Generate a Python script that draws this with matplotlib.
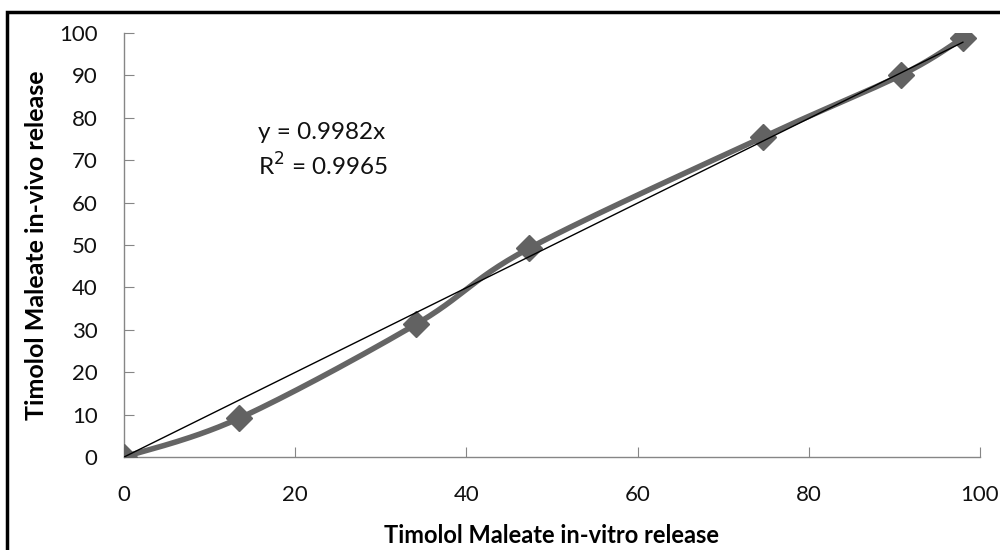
import numpy as np
import matplotlib
matplotlib.use("Agg")
from matplotlib import pyplot as plt
from matplotlib.patches import Rectangle

# in-vitro vs in-vivo release (%)
invitro = [0, 13.4, 34.1, 47.3, 74.7, 90.8, 98.0]
invivo = [0, 9.1, 31.3, 49.2, 75.5, 90.1, 98.8]
slope = 0.9982
r2 = 0.9965

plt.rcParams['font.family'] = ['Lato', 'DejaVu Sans']


def smooth(xs, ys, n=30):
    # catmull-rom style smoothing between the points
    x = np.asarray(xs, float)
    y = np.asarray(ys, float)
    px = np.concatenate([[x[0]], x, [x[-1]]])
    py = np.concatenate([[y[0]], y, [y[-1]]])
    outx, outy = [], []
    t = np.linspace(0, 1, n)
    for i in range(1, len(px) - 2):
        p0, p1, p2, p3 = [np.array([px[j], py[j]]) for j in (i - 1, i, i + 1, i + 2)]
        c1 = p1 + (p2 - p0) / 6
        c2 = p2 - (p3 - p1) / 6
        b = ((1 - t) ** 3)[:, None] * p1 + (3 * (1 - t) ** 2 * t)[:, None] * c1 \
            + (3 * (1 - t) * t ** 2)[:, None] * c2 + (t ** 3)[:, None] * p2
        outx.extend(b[:, 0]); outy.extend(b[:, 1])
    return outx, outy


fig = plt.figure(figsize=(10, 5.5), dpi=100, facecolor='white')
ax = fig.add_axes([0.124, 0.169, 0.856, 0.771])

sx, sy = smooth(invitro, invivo)
ax.plot(sx, sy, color='#656565', lw=4, solid_capstyle='round', zorder=3)
ax.plot(invitro, invivo, ls='none', marker='D', ms=13, color='#626262', zorder=4)

fx = np.array([0, max(invitro)])
ax.plot(fx, slope * fx, color='black', lw=1, zorder=5)

ax.text(0.1565, 0.723, 'y = %.4fx\nR$^2$ = %.4f' % (slope, r2), transform=ax.transAxes,
        fontsize=17.5, va='center', ha='left', linespacing=1.4, color='#111111')

ax.set_xlim(0, 100)
ax.set_ylim(0, 100)
ax.set_xticks(range(0, 101, 20))
ax.set_yticks(range(0, 101, 10))
for s in ['top', 'right']:
    ax.spines[s].set_visible(False)
for s in ['left', 'bottom']:
    ax.spines[s].set_color('#868686')
    ax.spines[s].set_linewidth(1)
ax.tick_params(direction='in', length=7, color='#868686', labelsize=16, labelcolor='#111111')
ax.tick_params(axis='x', pad=20)
ax.tick_params(axis='y', pad=19)
ax.set_xlabel('Timolol Maleate in-vitro release', fontsize=17, fontweight='bold', labelpad=14)
ax.set_ylabel('Timolol Maleate in-vivo release', fontsize=18, fontweight='bold', labelpad=8)
for sp in ax.spines.values():
    sp.set_clip_on(False)

# outer frame
fig.patches.append(Rectangle((0.007, -0.1), 1.2, 1.078, transform=fig.transFigure,
                             fill=False, ec='black', lw=2.5))

fig.savefig('out.png', dpi=100)
